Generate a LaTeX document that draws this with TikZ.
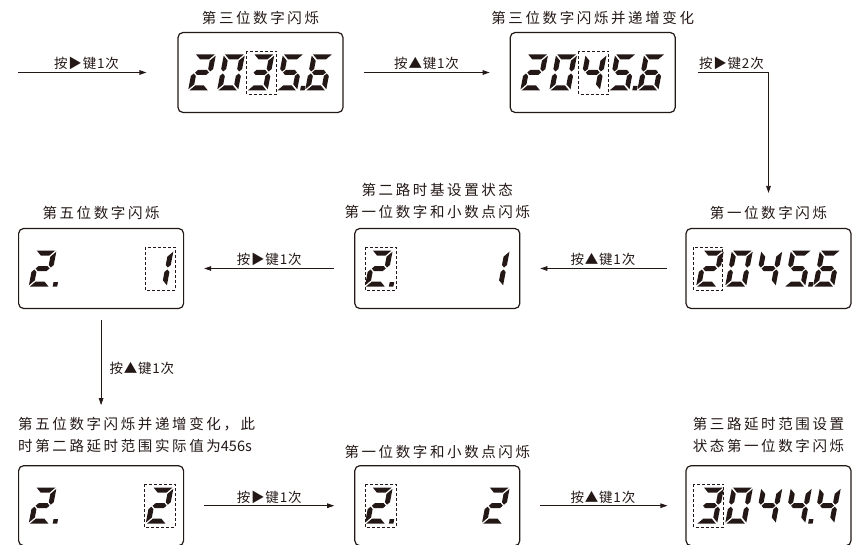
\documentclass[tikz,border=0pt]{standalone}
\usepackage{fontspec}
\newfontfamily\cjk[LetterSpace=18]{Noto Sans CJK SC}
\newfontfamily\cjkkey[LetterSpace=6]{Noto Sans CJK SC}
\newfontfamily\cjkplain{Noto Sans CJK SC}
\usetikzlibrary{arrows.meta,positioning}
\definecolor{ink}{RGB}{35,24,21}

% seven segment pieces, cell centre at origin, y pointing down
\newcommand\dsega{(-9.3,-18) -- (9.3,-18) -- (4.3,-13) -- (-4.3,-13) -- cycle}
\newcommand\dsegb{(10.5,-16.8) -- (10.5,-3.5) -- (8,-1) -- (5.5,-3.5) -- (5.5,-11.8) -- cycle}
\newcommand\dsegc{(10.5,16.8) -- (10.5,3.5) -- (8,1) -- (5.5,3.5) -- (5.5,11.8) -- cycle}
\newcommand\dsegd{(-9.3,18) -- (9.3,18) -- (4.3,13) -- (-4.3,13) -- cycle}
\newcommand\dsege{(-10.5,16.8) -- (-5.5,11.8) -- (-5.5,3.5) -- (-8,1) -- (-10.5,3.5) -- cycle}
\newcommand\dsegf{(-10.5,-16.8) -- (-5.5,-11.8) -- (-5.5,-3.5) -- (-8,-1) -- (-10.5,-3.5) -- cycle}
\newcommand\dsegg{(-6.95,0) -- (-4.45,-2.5) -- (4.45,-2.5) -- (6.95,0) -- (4.45,2.5) -- (-4.45,2.5) -- cycle}
\newcommand\dsegp{(13.5,13.5) rectangle (18,18)}

\newcommand\lcddigit[3]{%
  \begin{scope}[shift={(#1)}, xshift=#2pt, xslant=0.19]
    \foreach \s in {#3} {\fill[seg] \csname dseg\s\endcsname;}
  \end{scope}}
\newcommand\blinkbox[3]{%
  \draw[blink] ([xshift=#2pt, yshift=21.5pt]#1.center) rectangle ([xshift=#3pt, yshift=-21.5pt]#1.center);}

\begin{document}
\begin{tikzpicture}[>={Triangle[length=7pt,width=4.6pt]}, x=1pt, y=-1pt, ink,
  lcd box/.style={draw=ink, rounded corners=5pt, line width=1.2pt,
    minimum width=165pt, minimum height=80pt},
  seg/.style={fill=ink},
  blink/.style={draw=ink, line width=0.7pt, dash pattern=on 3pt off 2pt},
  title text/.style={font=\cjk\fontsize{14.5}{22}\selectfont, text=ink,
    inner sep=0pt, align=center},
  key text/.style={font=\cjkkey\fontsize{13.5}{15}\selectfont, text=ink, inner sep=2pt}]

  \useasboundingbox (0,0) rectangle (858,545);

  \node[lcd box] (1) at (260.5,72.5) {};
  \node[lcd box] (2) [right=166pt of 1] {};
  \node[lcd box] (3) at (768.5,268.5) {};
  \node[lcd box] (4) [left=165pt of 3] {};
  \node[lcd box] (5) [left=170pt of 4] {};
  \node[lcd box] (6) [below=156pt of 5] {};
  \node[lcd box] (7) [below=156pt of 4] {};
  \node[lcd box] (8) [below=156pt of 3] {};

  \node[title text] (l1) [above=7pt of 1] {第三位数字闪烁};
  \node[title text] (l2) [above=7pt of 2] {第三位数字闪烁并递增变化};
  \node[title text] (l3) [above=8pt of 3] {第一位数字闪烁};
  \node[title text] (l4) [above=9pt of 4] {第二路时基设置状态\\第一位数字和小数点闪烁};
  \node[title text] (l5) [above=8pt of 5] {第五位数字闪烁};
  \node[title text, align=left] (l6) [above right=12pt and 0pt of 6.north west]
    {第五位数字闪烁并递增变化，此\\时第二路延时范围实际值为{\cjkplain 456s}};
  \node[title text] (l7) [above=6pt of 7] {第一位数字和小数点闪烁};
  \node[title text] (l8) [above=12pt of 8] {第三路延时范围设置\\状态第一位数字闪烁};

  % 2035.6
  \lcddigit{1}{-58.5}{a,b,g,e,d}
  \lcddigit{1}{-29.5}{a,b,c,d,e,f}
  \lcddigit{1}{0}{a,b,g,c,d}
  \lcddigit{1}{29.5}{a,f,g,c,d,p}
  \lcddigit{1}{58.5}{a,f,g,e,d,c}
  \blinkbox{1}{-14}{16}
  % 2045.6
  \lcddigit{2}{-58.5}{a,b,g,e,d}
  \lcddigit{2}{-29.5}{a,b,c,d,e,f}
  \lcddigit{2}{0}{f,g,b,c}
  \lcddigit{2}{29.5}{a,f,g,c,d,p}
  \lcddigit{2}{58.5}{a,f,g,e,d,c}
  \blinkbox{2}{-14}{16}
  % 2045.6
  \lcddigit{3}{-58.5}{a,b,g,e,d}
  \lcddigit{3}{-29.5}{a,b,c,d,e,f}
  \lcddigit{3}{0}{f,g,b,c}
  \lcddigit{3}{29.5}{a,f,g,c,d,p}
  \lcddigit{3}{58.5}{a,f,g,e,d,c}
  \blinkbox{3}{-75}{-46}
  % 2.  1
  \lcddigit{4}{-58.5}{a,b,g,e,d,p}
  \lcddigit{4}{58.5}{b,c}
  \blinkbox{4}{-72}{-41}
  \lcddigit{5}{-58.5}{a,b,g,e,d,p}
  \lcddigit{5}{58.5}{b,c}
  \blinkbox{5}{44}{74}
  % 2.  2
  \lcddigit{6}{-58.5}{a,b,g,e,d,p}
  \lcddigit{6}{58.5}{a,b,g,e,d}
  \blinkbox{6}{43}{74}
  \lcddigit{7}{-58.5}{a,b,g,e,d,p}
  \lcddigit{7}{58.5}{a,b,g,e,d}
  \blinkbox{7}{-72}{-41}
  % 3044.4
  \lcddigit{8}{-58.5}{a,b,g,c,d}
  \lcddigit{8}{-29.5}{a,b,c,d,e,f}
  \lcddigit{8}{0}{f,g,b,c}
  \lcddigit{8}{29.5}{f,g,b,c,p}
  \lcddigit{8}{58.5}{f,g,b,c}
  \blinkbox{8}{-75}{-45}

  \coordinate (in) at (18,72.5);
  \path[->, line width=0.8pt]
    (in) edge[shorten >=31pt] node[key text, above, pos=0.43] {按▶键1次} (1.west)
    (1) edge[shorten <=20pt, shorten >=20pt] node[key text, above] {按▲键1次} (2)
    (2.east) edge[shorten <=22pt, shorten >=35pt, to path={-| (\tikztotarget) \tikztonodes}]
         node[key text, above, pos=0.3] {按▶键2次} (3.north)
    (3) edge[shorten <=18pt, shorten >=20pt] node[key text, above] {按▲键1次} (4)
    (4) edge[shorten <=20pt, shorten >=20pt] node[key text, above] {按▶键1次} (5)
    (5) edge[shorten <=11pt, shorten >=60pt] node[key text, right, pos=0.38, xshift=6pt] {按▲键1次} (6)
    (6) edge[shorten <=20pt, shorten >=20pt] node[key text, above] {按▶键1次} (7)
    (7) edge[shorten <=20pt, shorten >=18pt] node[key text, above] {按▲键1次} (8);
\end{tikzpicture}
\end{document}
